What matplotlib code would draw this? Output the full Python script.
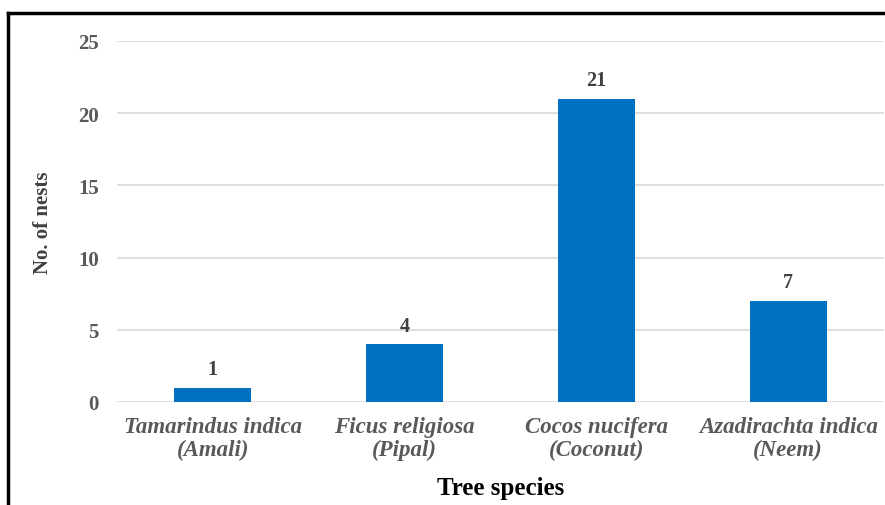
import numpy as np
import matplotlib
matplotlib.use("Agg")
import matplotlib.pyplot as plt
from matplotlib.lines import Line2D

## chart data
species = ["Tamarindus indica\n(Amali)", "Ficus religiosa\n(Pipal)",
	"Cocos nucifera\n(Coconut)", "Azadirachta indica\n(Neem)"]
nests = [1, 4, 21, 7]
yticks = [0, 5, 10, 15, 20, 25]

plt.rcParams['font.family'] = ['Liberation Serif', 'DejaVu Serif']

fig = plt.figure(figsize=(8.85, 5.06), dpi=100)
ax = fig.add_axes([0.132, 0.2036, 0.867, 0.7134])

x = np.arange(len(species))
ax.bar(x, nests, width=0.4, color='#0070C0', zorder=3)
for xi, v in zip(x, nests):
	ax.text(xi, v + 0.6, str(v), ha='center', va='bottom',
		fontsize=14.5, fontweight='bold', color='#404040')

ax.set_xlim(-0.5, len(species) - 0.5)
ax.set_ylim(0, 25)
ax.set_yticks(yticks)
ax.set_yticklabels([str(t) for t in yticks], fontsize=15, fontweight='bold', color='#595959')
ax.set_xticks(x)
ax.set_xticklabels(species, fontsize=16.5, fontweight='bold', fontstyle='italic',
	color='#595959', linespacing=1.15)
ax.tick_params(axis='both', length=0)
ax.tick_params(axis='y', pad=13)
ax.tick_params(axis='x', pad=10)
ax.grid(axis='y', color='#D9D9D9', linewidth=1.2, zorder=0)
for s in ax.spines.values():
	s.set_visible(False)

ax.set_ylabel('No. of nests', fontsize=15, fontweight='bold', color='#404040', labelpad=18)
ax.set_xlabel('Tree species', fontsize=18, fontweight='bold', color='black', labelpad=11)

# outer frame (top and left)
fig.add_artist(Line2D([0.009, 1.0], [0.972, 0.972], transform=fig.transFigure, color='black', linewidth=2.5))
fig.add_artist(Line2D([0.009, 0.009], [0.0, 0.972], transform=fig.transFigure, color='black', linewidth=2.5))

fig.savefig('out.png', dpi=100)
